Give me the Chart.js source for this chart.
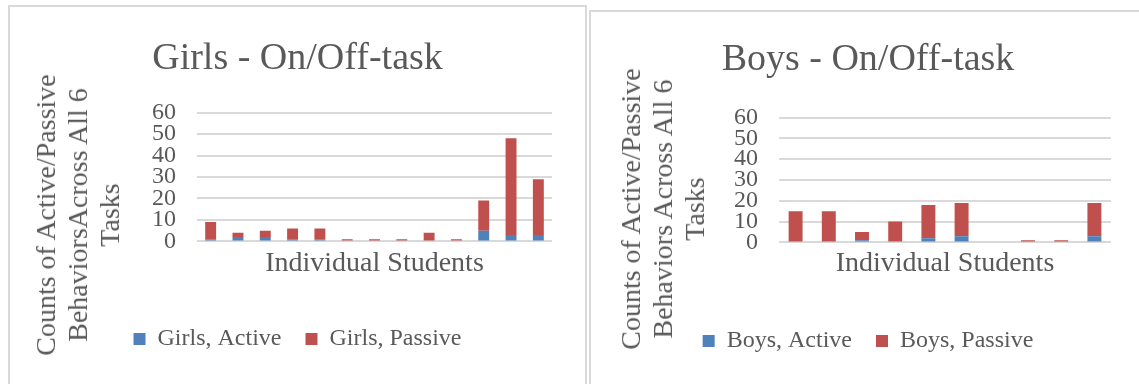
<html>
<head>
<script src="https://cdn.jsdelivr.net/npm/chart.js"></script>
<style>
  body { margin: 0; background: #fff; overflow: hidden; font-family: 'Liberation Serif', serif; }
  .box { position: absolute; border: 2px solid #d9d9d9; box-sizing: border-box; height: 400px; background: #fff; }
  .ytitle { position: absolute; color: #595959; font-size: 28px; line-height: 32px; text-align: center;
            white-space: nowrap; transform: translate(-50%, -50%) rotate(-90deg); }
</style>
</head>
<body>

<div class="box" style="left:8px; top:5px; width:579px;">
  <div style="position:relative; width:575px; height:380px;"><canvas id="girlsChart"></canvas></div>
</div>
<div class="ytitle" style="left:78px; top:215px;">Counts of Active/Passive<br>BehaviorsAcross All 6<br>Tasks</div>

<div class="box" style="left:589px; top:10px; width:558px;">
  <div style="position:relative; width:554px; height:375px;"><canvas id="boysChart"></canvas></div>
</div>
<div class="ytitle" style="left:663px; top:209px;">Counts of Active/Passive<br>Behaviors Across All 6<br>Tasks</div>

<script>
// girls: 13 students
let girlsStudents = ['1','2','3','4','5','6','7','8','9','10','11','12','13'];
let girlsActive  = [1, 2, 2, 1, 1, 0, 0, 0, 0, 0, 5, 3, 3];
let girlsPassive = [8, 2, 3, 5, 5, 1, 1, 1, 4, 1, 14, 45, 26];

// boys: 10 students
let boysStudents = ['1','2','3','4','5','6','7','8','9','10'];
let boysActive  = [0, 0, 1, 0, 2, 3, 0, 0, 0, 3];
let boysPassive = [15, 15, 4, 10, 16, 16, 0, 1, 1, 16];

let yTicks = [0, 10, 20, 30, 40, 50, 60];

Chart.defaults.font.family = "'Liberation Serif', serif";
Chart.defaults.color = '#595959';

function makeChart(id, title, labels, active, passive, names, o) {
    var ctx = document.getElementById(id).getContext('2d');
    return new Chart(ctx, {
        type: 'bar',
        data: {
            labels: labels,
            datasets: [{
                label: names[0],
                data: active,
                backgroundColor: '#4f81bd',
                borderWidth: 0,
                barPercentage: o.barPct,
                categoryPercentage: 1
            }, {
                label: names[1],
                data: passive,
                backgroundColor: '#c0504d',
                borderWidth: 0,
                barPercentage: o.barPct,
                categoryPercentage: 1
            }]
        },
        options: {
            responsive: true,
            maintainAspectRatio: false,
            animation: false,
            layout: { padding: { left: o.side, right: o.side, top: 0, bottom: o.bottom } },
            plugins: {
                title: {
                    display: true,
                    text: title,
                    font: { size: 38, weight: 'normal' },
                    color: '#595959',
                    padding: { top: o.titleTop, bottom: o.titleBottom }
                },
                legend: {
                    position: 'bottom',
                    labels: {
                        boxWidth: 12,
                        boxHeight: 12,
                        padding: 24,
                        color: '#595959',
                        font: { size: 24 }
                    }
                },
                tooltip: { enabled: false }
            },
            scales: {
                x: {
                    stacked: true,
                    grid: { display: false, drawTicks: false },
                    border: { display: false },
                    ticks: { display: false },
                    title: {
                        display: true,
                        text: 'Individual Students',
                        font: { size: 28 },
                        color: '#595959',
                        padding: { top: o.xTop, bottom: o.xBottom }
                    }
                },
                y: {
                    stacked: true,
                    min: 0,
                    max: 60,
                    afterBuildTicks: function(axis) {
                        axis.ticks = yTicks.map(function(v) { return { value: v }; });
                    },
                    afterFit: function(axis) { axis.width = o.yWidth; },
                    grid: { color: '#d9d9d9', lineWidth: 2, drawTicks: false },
                    border: { display: false },
                    ticks: {
                        autoSkip: false,
                        padding: 21,
                        color: '#595959',
                        font: { size: 24 }
                    }
                }
            }
        }
    });
}

makeChart('girlsChart', 'Girls - On/Off-task', girlsStudents, girlsActive, girlsPassive,
    ['Girls, Active', 'Girls, Passive'],
    { barPct: 0.4, side: 33, bottom: 26, titleTop: 29, titleBottom: 31, xTop: 5, xBottom: 23, yWidth: 154 });

makeChart('boysChart', 'Boys - On/Off-task', boysStudents, boysActive, boysPassive,
    ['Boys, Active', 'Boys, Passive'],
    { barPct: 0.42, side: 34, bottom: 24, titleTop: 25, titleBottom: 35, xTop: 4, xBottom: 25, yWidth: 154 });
</script>

</body>
</html>
